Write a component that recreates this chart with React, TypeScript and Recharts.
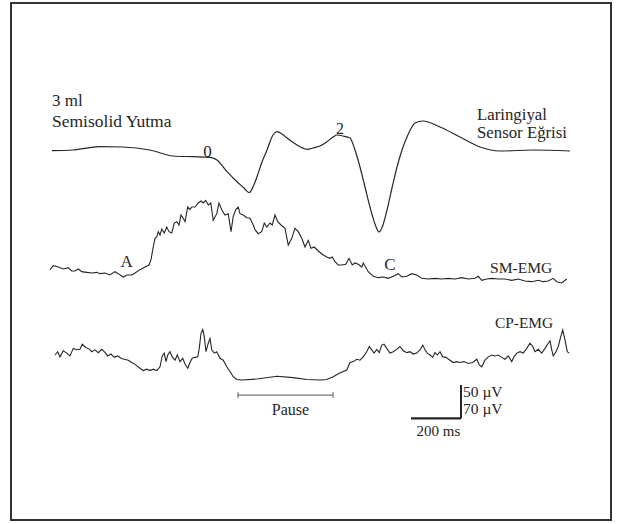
import { LineChart, Line, XAxis, YAxis, ReferenceLine } from 'recharts'

const W = 621
const H = 524

// laringiyal sensör eğrisi: [ms, a.u.]
const LARINKS: [number, number][] = [
  [8, 0.3], [92, 1], [200, 4.3], [292, 4], [400, 1], [492, -5], [572, -5.7], [640, -6.3],
  [668, -9], [708, -20.7], [748, -30.7], [776, -37], [796, -41.7], [812, -36], [828, -25.7],
  [848, -11], [868, 1], [892, 16], [908, 19.3], [928, 17], [948, 13], [988, 6], [1028, 1.7],
  [1052, 3], [1080, 5], [1108, 9.3], [1132, 14], [1148, 16], [1172, 15], [1200, 13],
  [1220, 1], [1240, -16], [1260, -36], [1280, -56], [1300, -73], [1316, -81], [1332, -74],
  [1348, -59], [1368, -37], [1388, -16], [1408, 1], [1428, 14], [1460, 28], [1492, 30],
  [1560, 24], [1640, 14], [1720, 4], [1800, 0], [1932, 1], [2080, 0],
]

// submental EMG: [ms, µV]
const SM_EMG: [number, number][] = [
  [0, 14], [13, 20], [33, 18], [53, 15], [73, 17], [87, 12], [100, 12], [113, 15], [127, 11],
  [147, 10], [167, 9], [187, 10], [200, 8], [220, 9], [240, 6], [260, 11], [273, 8], [293, 3],
  [307, 6], [327, 6], [340, 9], [360, 14], [380, 18], [396, 21], [404, 29], [413, 48],
  [420, 61], [427, 63], [433, 71], [440, 66], [447, 75], [457, 69], [467, 78], [476, 71],
  [487, 69], [497, 84], [507, 86], [516, 81], [524, 96], [533, 91], [540, 86], [551, 108],
  [560, 104], [567, 108], [580, 108], [593, 114], [604, 117], [613, 114], [623, 118],
  [633, 111], [643, 114], [653, 88], [667, 98], [676, 114], [687, 104], [700, 96], [713, 98],
  [724, 71], [733, 94], [743, 104], [753, 108], [760, 98], [773, 96], [787, 92], [800, 91],
  [813, 81], [820, 74], [833, 68], [847, 71], [857, 84], [867, 78], [880, 84], [889, 81],
  [900, 96], [911, 86], [924, 81], [940, 76], [953, 51], [967, 61], [980, 76], [993, 71],
  [1007, 61], [1020, 48], [1033, 58], [1044, 46], [1057, 48], [1073, 42], [1093, 36],
  [1107, 33], [1120, 31], [1129, 33], [1140, 26], [1153, 21], [1167, 21], [1183, 22],
  [1196, 31], [1209, 21], [1220, 24], [1233, 22], [1247, 18], [1253, 24], [1273, 11],
  [1293, 4], [1313, 2], [1333, 3], [1353, 1], [1373, 4], [1393, 8], [1407, 3], [1427, 4],
  [1447, 8], [1467, 6], [1487, 1], [1513, 0], [1540, 1], [1567, 0], [1593, 1], [1620, 0],
  [1647, 2], [1673, 0], [1700, 1], [1713, 4], [1727, -2], [1747, 0], [1767, 1], [1793, 0],
  [1820, 0], [1847, -2], [1873, 0], [1900, -3], [1927, -4], [1953, -2], [1973, -4],
  [1993, -3], [2013, 1], [2027, -4], [2047, -6], [2067, 0],
]

// krikofaringeal EMG: [ms, µV]
const CP_EMG: [number, number][] = [
  [20, 53], [31, 60], [40, 49], [53, 62], [67, 57], [80, 51], [93, 67], [107, 64], [120, 65],
  [129, 76], [143, 69], [156, 66], [167, 60], [180, 64], [193, 58], [207, 65], [217, 60],
  [231, 51], [244, 55], [257, 48], [271, 51], [284, 46], [297, 44], [313, 42], [327, 37],
  [343, 32], [360, 25], [373, 20], [387, 23], [400, 20], [413, 23], [427, 20], [440, 28],
  [449, 51], [457, 57], [464, 39], [471, 53], [480, 60], [489, 49], [500, 42], [509, 53],
  [520, 39], [531, 46], [540, 34], [551, 25], [560, 37], [569, 46], [580, 48], [591, 49],
  [597, 67], [604, 99], [611, 107], [617, 92], [624, 60], [633, 78], [640, 88], [647, 64],
  [657, 57], [667, 60], [680, 46], [693, 42], [707, 28], [720, 18], [733, 7], [747, 1],
  [767, 0], [828, 2], [908, 8], [972, 5], [1028, 1], [1080, 0], [1107, 1], [1133, 7],
  [1153, 13], [1173, 18], [1187, 21], [1200, 37], [1213, 39], [1227, 44], [1240, 42],
  [1253, 49], [1267, 60], [1277, 71], [1287, 64], [1296, 57], [1307, 65], [1317, 58],
  [1327, 74], [1336, 76], [1347, 67], [1360, 57], [1373, 60], [1387, 65], [1400, 71],
  [1413, 62], [1427, 58], [1440, 60], [1453, 55], [1467, 57], [1480, 64], [1491, 74],
  [1500, 64], [1509, 57], [1520, 53], [1531, 48], [1540, 58], [1549, 53], [1560, 60],
  [1571, 49], [1584, 48], [1600, 42], [1613, 37], [1627, 39], [1640, 37], [1656, 39],
  [1673, 35], [1691, 37], [1707, 44], [1717, 32], [1727, 28], [1740, 42], [1753, 49],
  [1767, 53], [1780, 51], [1793, 53], [1807, 48], [1820, 44], [1833, 51], [1847, 39],
  [1856, 49], [1867, 57], [1880, 60], [1893, 57], [1907, 67], [1920, 78], [1931, 71],
  [1940, 60], [1953, 65], [1967, 57], [1980, 67], [1993, 78], [2000, 83], [2007, 64],
  [2013, 51], [2024, 60], [2033, 71], [2043, 92], [2051, 106], [2060, 85], [2069, 60],
  [2077, 57],
]

// pause (ms) and scale bars
const PAUSE: [number, number] = [752, 1132]
const SCALE_MS = 200
const SCALE_UV = 50
const SCALE_START = 1444

const INK = '#262626'
const FONT = "'Liberation Serif', 'Times New Roman', serif"

const toRows = (pts: [number, number][]) => pts.map(([t, v]) => ({ t, v }))
const larRows = toRows(LARINKS)
const smRows = toRows(SM_EMG)
const cpRows = toRows(CP_EMG)

export default function App() {
  const barBottom = -209
  const pauseY = -32
  return (
    <div style={{ position: 'fixed', left: 0, top: 0, width: W, height: H, background: '#fff' }}>
      <LineChart width={W} height={H} margin={{ top: 0, right: 0, bottom: 0, left: 0 }}>
        <XAxis dataKey="t" type="number" domain={[-200, 2284]} allowDataOverflow hide />
        <YAxis yAxisId="lar" type="number" domain={[-373, 151]} allowDataOverflow hide />
        <YAxis yAxisId="sm" type="number" domain={[-367.5, 418.5]} allowDataOverflow hide />
        <YAxis yAxisId="cp" type="number" domain={[-305.3, 805.6]} allowDataOverflow hide />
        <Line yAxisId="lar" data={larRows} dataKey="v" type="monotone" stroke={INK}
          strokeWidth={1.2} dot={false} activeDot={false} isAnimationActive={false} />
        <Line yAxisId="sm" data={smRows} dataKey="v" type="linear" stroke={INK}
          strokeWidth={1.1} dot={false} activeDot={false} isAnimationActive={false} />
        <Line yAxisId="cp" data={cpRows} dataKey="v" type="linear" stroke={INK}
          strokeWidth={1.1} dot={false} activeDot={false} isAnimationActive={false} />
        <ReferenceLine yAxisId="cp" stroke="#555" strokeWidth={1}
          segment={[{ x: PAUSE[0], y: pauseY }, { x: PAUSE[1], y: pauseY }]} />
        <ReferenceLine yAxisId="cp" stroke="#555" strokeWidth={1}
          segment={[{ x: PAUSE[0], y: pauseY - 6 }, { x: PAUSE[0], y: pauseY + 6 }]} />
        <ReferenceLine yAxisId="cp" stroke="#555" strokeWidth={1}
          segment={[{ x: PAUSE[1], y: pauseY - 6 }, { x: PAUSE[1], y: pauseY + 6 }]} />
        <ReferenceLine yAxisId="sm" stroke={INK} strokeWidth={2.2}
          segment={[{ x: SCALE_START, y: barBottom }, { x: SCALE_START + SCALE_MS, y: barBottom }]} />
        <ReferenceLine yAxisId="sm" stroke={INK} strokeWidth={2}
          segment={[{ x: SCALE_START + SCALE_MS, y: barBottom }, { x: SCALE_START + SCALE_MS, y: barBottom + SCALE_UV }]} />
      </LineChart>
      <svg width={W} height={H} style={{ position: 'absolute', left: 0, top: 0, pointerEvents: 'none' }}
        fontFamily={FONT} fill={INK}>
        <rect x={11} y={3} width={600} height={517} fill="none" stroke="#333" strokeWidth={2} />
        <text x={52} y={105.5} fontSize={17}>3 ml</text>
        <text x={52} y={127} fontSize={17.5}>Semisolid Yutma</text>
        <text x={477} y={120} fontSize={16.8}>Laringiyal</text>
        <text x={477} y={138} fontSize={16.8}>Sensor Eğrisi</text>
        <text x={207.5} y={156.5} fontSize={17} textAnchor="middle">0</text>
        <text x={340} y={134} fontSize={16} textAnchor="middle">2</text>
        <text x={126.7} y={266.7} fontSize={17} textAnchor="middle">A</text>
        <text x={390} y={270} fontSize={17} textAnchor="middle">C</text>
        <text x={490} y={273.3} fontSize={15.6}>SM-EMG</text>
        <text x={495} y={328.3} fontSize={15.4}>CP-EMG</text>
        <text x={290.5} y={415} fontSize={16} textAnchor="middle">Pause</text>
        <text x={463} y={396.7} fontSize={15.5}>50 µV</text>
        <text x={463} y={414} fontSize={15.5}>70 µV</text>
        <text x={438.5} y={436} fontSize={15} textAnchor="middle">200 ms</text>
      </svg>
    </div>
  )
}
